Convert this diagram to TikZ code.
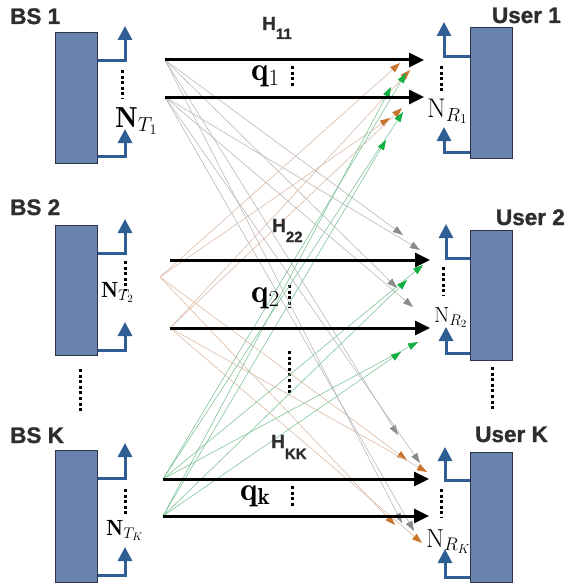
\RequirePackage{fix-cm}
\documentclass[tikz,border=0pt]{standalone}
\usepackage{fontspec}
\newfontfamily\labfont{Liberation Sans}[BoldFeatures={FakeBold=1.2}]
\usetikzlibrary{arrows.meta}
\definecolor{boxblue}{HTML}{6983AF}
\definecolor{boxedge}{HTML}{2B3448}
\definecolor{antblue}{HTML}{2E5E94}
\definecolor{labgray}{HTML}{2E2E2E}
\definecolor{linegray}{HTML}{B8B8B8}
\definecolor{headgray}{HTML}{8C8C8C}
\definecolor{lineorange}{HTML}{DDBBA6}
\definecolor{headorange}{HTML}{C8742E}
\definecolor{linegreen}{HTML}{80C49A}
\definecolor{headgreen}{HTML}{12B042}
\tikzset{
 box/.style={draw=boxedge, fill=boxblue, line width=1pt, minimum width=42pt, inner sep=0pt},
 ant/.style={draw=antblue, line width=3pt, line join=miter, -{Triangle[length=14pt,width=14pt]}},
 mainarr/.style={draw=black, line width=3pt, -{Triangle[length=15pt,width=14pt]}},
 vdots/.style={line width=3pt, dash pattern=on 3pt off 2.6pt},
 grayl/.style={draw=linegray, line width=0.6pt, -{Triangle[length=10pt,width=7pt,color=headgray]}},
 orangel/.style={draw=lineorange, line width=0.6pt, -{Triangle[length=10pt,width=7pt,color=headorange]}},
 greenl/.style={draw=linegreen, line width=0.6pt, -{Triangle[length=10pt,width=7pt,color=headgreen]}},
 lbl/.style={text=labgray, inner sep=0pt, font=\labfont\bfseries\fontsize{22.5}{22}\selectfont},
 hlab/.style={text=labgray, inner sep=0pt, font=\labfont\bfseries\fontsize{19}{19}\selectfont},
 mlab/.style={inner sep=0pt, anchor=base west},
}
\begin{document}
\begin{tikzpicture}[x=1pt,y=-1pt]
\useasboundingbox (0,0) rectangle (566,586);
% titles
\node[lbl, anchor=base west] (bs1l) at (10,24) {BS 1};
\node[lbl, anchor=base west] (bs2l) at (10,215) {BS 2};
\node[lbl, anchor=base west] (bskl) at (10,443) {BS K};
\node[lbl, anchor=base east] (u1l) at (561,23) {User 1};
\node[lbl, anchor=base east] (u2l) at (565,225) {User 2};
\node[lbl, anchor=base east] (ukl) at (548,442) {User K};
% boxes
\node[box, minimum height=130pt] (bs1) at (76,98) {};
\node[box, minimum height=130pt] (bs2) at (76,290) {};
\node[box, minimum height=132pt] (bsk) at (76,516) {};
\node[box, minimum height=130pt] (u1) at (491,93) {};
\node[box, minimum height=130pt] (u2) at (491,295) {};
\node[box, minimum height=130pt] (uk) at (491,517) {};
% BS antennas
\coordinate (b1c1) at (125,61);  \coordinate (b1t1) at (125,26);
\coordinate (b1c2) at (125,156); \coordinate (b1t2) at (125,129);
\coordinate (b2c1) at (125,253); \coordinate (b2t1) at (125,219);
\coordinate (b2c2) at (125,350); \coordinate (b2t2) at (125,322);
\coordinate (bkc1) at (125,478); \coordinate (bkt1) at (125,443);
\coordinate (bkc2) at (125,575); \coordinate (bkt2) at (125,547);
\draw[ant] (bs1.east |- b1c1) -- (b1c1) -- (b1t1);
\draw[ant] (bs1.east |- b1c2) -- (b1c2) -- (b1t2);
\draw[ant] (bs2.east |- b2c1) -- (b2c1) -- (b2t1);
\draw[ant] (bs2.east |- b2c2) -- (b2c2) -- (b2t2);
\draw[ant] (bsk.east |- bkc1) -- (bkc1) -- (bkt1);
\draw[ant] (bsk.east |- bkc2) -- (bkc2) -- (bkt2);
% user antennas
\coordinate (u1c1) at (444,57);  \coordinate (u1t1) at (444,22);
\coordinate (u1c2) at (444,152); \coordinate (u1t2) at (444,127);
\coordinate (u2c1) at (446,258); \coordinate (u2t1) at (446,224);
\coordinate (u2c2) at (446,353); \coordinate (u2t2) at (446,327);
\coordinate (ukc1) at (445,480); \coordinate (ukt1) at (445,447);
\coordinate (ukc2) at (445,577); \coordinate (ukt2) at (445,549);
\draw[ant] (u1.west |- u1c1) -- (u1c1) -- (u1t1);
\draw[ant] (u1.west |- u1c2) -- (u1c2) -- (u1t2);
\draw[ant] (u2.west |- u2c1) -- (u2c1) -- (u2t1);
\draw[ant] (u2.west |- u2c2) -- (u2c2) -- (u2t2);
\draw[ant] (uk.west |- ukc1) -- (ukc1) -- (ukt1);
\draw[ant] (uk.west |- ukc2) -- (ukc2) -- (ukt2);
% vertical dots
\coordinate (d1a) at (122,70);  \coordinate (d1b) at (122,99);
\coordinate (d2a) at (125,261); \coordinate (d2b) at (125,291);
\coordinate (dka) at (125,489); \coordinate (dkb) at (125,516);
\coordinate (e1a) at (441,66);  \coordinate (e1b) at (441,94);
\coordinate (e2a) at (443,267); \coordinate (e2b) at (443,296);
\coordinate (eka) at (441,489); \coordinate (ekb) at (441,518);
\coordinate (lda) at (80,369);  \coordinate (ldb) at (80,411);
\coordinate (rda) at (492,367); \coordinate (rdb) at (492,411);
\coordinate (mda) at (289,351); \coordinate (mdb) at (289,394);
\coordinate (q1a) at (292,66);  \coordinate (q1b) at (292,88);
\coordinate (q2a) at (289,285); \coordinate (q2b) at (289,308);
\coordinate (qka) at (292,486); \coordinate (qkb) at (292,508);
\foreach \a/\b in {d1a/d1b,d2a/d2b,dka/dkb,e1a/e1b,e2a/e2b,eka/ekb,lda/ldb,rda/rdb,mda/mdb,q1a/q1b,q2a/q2b,qka/qkb}
  \draw[vdots] (\a) -- (\b);
% sources
\coordinate (s11) at (165,60);  \coordinate (s12) at (165,97);
\coordinate (s21) at (160,277); \coordinate (s22) at (170,328);
\coordinate (s21m) at (170,260);
\coordinate (sk1) at (163,479); \coordinate (sk2) at (163,516);
% targets
\coordinate (r1a) at (400,63);  \coordinate (r1b) at (410,70);
\coordinate (r1c) at (402,108); \coordinate (r1d) at (390,118);
\coordinate (r1e) at (406,73);  \coordinate (r1f) at (391,87);
\coordinate (r1g) at (403,112); \coordinate (r1h) at (386,140);
\coordinate (r2a) at (403,235); \coordinate (r2b) at (420,250);
\coordinate (r2c) at (397,288); \coordinate (r2d) at (413,307);
\coordinate (r2e) at (423,265); \coordinate (r2f) at (407,280);
\coordinate (r2g) at (418,342); \coordinate (r2h) at (401,352);
\coordinate (rka) at (398,435); \coordinate (rkb) at (420,463);
\coordinate (rkc) at (402,523); \coordinate (rkd) at (414,531);
\coordinate (rke) at (407,460); \coordinate (rkf) at (427,472);
\coordinate (rkg) at (395,525); \coordinate (rkh) at (422,543);
% cross links
\foreach \s/\t in {s11/r2a,s11/r2c,s12/r2b,s12/r2d,s11/rka,s11/rkc,s12/rkb,s12/rkd}
  \draw[grayl] (\s) -- (\t);
\foreach \s/\t in {s21/r1a,s21/r1d,s22/r1b,s22/r1c,s21/rke,s21/rkg,s22/rkf,s22/rkh}
  \draw[orangel] (\s) -- (\t);
\foreach \s/\t in {sk1/r1e,sk1/r1g,sk2/r1f,sk2/r1h,sk1/r2e,sk1/r2g,sk2/r2f,sk2/r2h}
  \draw[greenl] (\s) -- (\t);
% main links
\coordinate (m11) at (424,60);  \coordinate (m12) at (424,97);
\coordinate (m21) at (430,260); \coordinate (m22) at (430,328);
\coordinate (mk1) at (429,479); \coordinate (mk2) at (429,516);
\draw[mainarr] (s11) -- (m11);
\draw[mainarr] (s12) -- (m12);
\draw[mainarr] (s21m) -- (m21);
\draw[mainarr] (s22) -- (m22);
\draw[mainarr] (sk1) -- (mk1);
\draw[mainarr] (sk2) -- (mk2);
% H labels
\node[hlab, anchor=base west] (h11) at (262,30) {H\raisebox{-9pt}{\fontsize{15}{15}\selectfont 11}};
\node[hlab, anchor=base west] (h22) at (272,232) {H\raisebox{-10pt}{\fontsize{15}{15}\selectfont 22}};
\node[hlab, anchor=base west] (hkk) at (271,448) {H\raisebox{-11pt}{\fontsize{15}{15}\selectfont KK}};
% q labels
\node[mlab, font=\fontsize{33}{33}\selectfont] (q1) at (251,81) {$\mathbf{q}_{1}$};
\node[mlab, font=\fontsize{33}{33}\selectfont] (q2) at (251,302) {$\mathbf{q}_{2}$};
\node[mlab, font=\fontsize{33}{33}\selectfont] (qk) at (240,500) {$\mathbf{q}_{\mathbf{k}}$};
% N labels
\node[mlab, font=\fontsize{29}{29}\selectfont] (nt1) at (115,127) {$\mathbf{N}_{T_1}$};
\node[mlab, font=\fontsize{22}{22}\selectfont] (nt2) at (101,297) {$\mathbf{N}_{T_2}$};
\node[mlab, font=\fontsize{22}{22}\selectfont] (ntk) at (106,535) {$\mathbf{N}_{T_K}$};
\node[mlab, font=\fontsize{27}{27}\selectfont] (nr1) at (427,117) {$\mathrm{N}_{R_1}$};
\node[mlab, font=\fontsize{22}{22}\selectfont] (nr2) at (434,322) {$\mathrm{N}_{R_2}$};
\node[mlab, font=\fontsize{26}{26}\selectfont] (nrk) at (426,547) {$\mathrm{N}_{R_K}$};
\end{tikzpicture}
\end{document}
